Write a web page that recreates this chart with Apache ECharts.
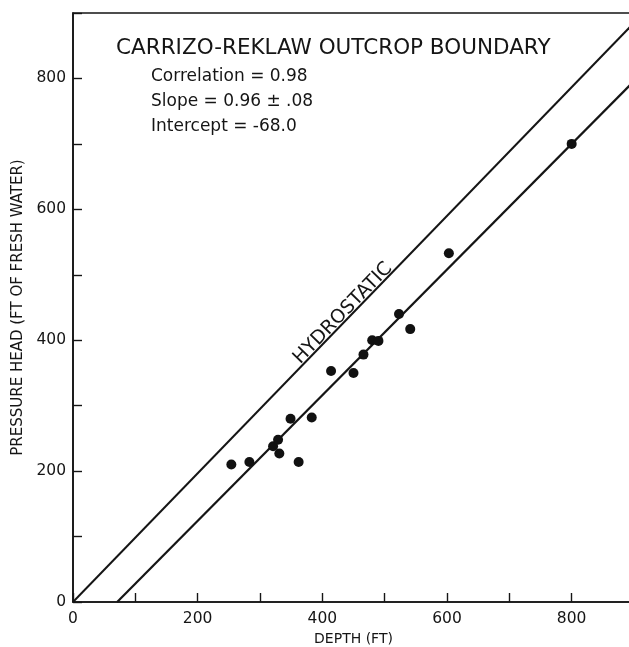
<!DOCTYPE html>
<html>
<head>
<meta charset="utf-8">
<script src="https://cdn.jsdelivr.net/npm/echarts@6/dist/echarts.min.js"></script>
<style>
  html, body { margin: 0; padding: 0; background: #ffffff; }
  #chart { width: 629px; height: 647px; }
</style>
</head>
<body>
<div id="chart"></div>
<script>
// Well measurements: depth vs. pressure head
const depthFt = [254, 283, 321, 329, 331, 349, 362, 383, 414, 450, 466, 480, 490, 523, 541, 603, 800];
const headFt  = [210, 214, 238, 248, 227, 280, 214, 282, 353, 350, 378, 400, 399, 440, 417, 533, 700];

// Least-squares fit stated in the annotation
const fitSlope = 0.96;
const fitIntercept = -68.0;

// Hydrostatic reference line end points (depth, head)
const hydroStart = [0, 0];
const hydroEnd = [900, 885];

// Axis tick labels (ticks every 100, labels every 200)
const xTickLabels = ['0', '200', '400', '600', '800'];
const yTickLabels = ['0', '200', '400', '600', '800'];

// Annotation text
const titleText = 'CARRIZO-REKLAW OUTCROP BOUNDARY';
const statLines = ['Correlation = 0.98', 'Slope = 0.96 \u00b1 .08', 'Intercept = -68.0'];
const hydroText = 'HYDROSTATIC';
const hydroLabelFrac = 0.49; // position of the label along the hydrostatic line

const axisMax = 900;
const ink = '#151515';
const fontFam = '"DejaVu Sans", "Liberation Sans", Arial, sans-serif';

const points = depthFt.map((d, i) => [d, headFt[i]]);
const hydroLine = [hydroStart, hydroEnd];
const fitLine = [[-fitIntercept / fitSlope, 0], [axisMax, fitSlope * axisMax + fitIntercept]];

const chart = echarts.init(document.getElementById('chart'), null, { renderer: 'canvas' });

const axisCommon = {
  type: 'value',
  min: 0,
  max: axisMax,
  interval: 100,
  splitLine: { show: false },
  axisLine: { show: true, onZero: false, lineStyle: { color: ink, width: 1.6 } },
  axisTick: { show: true, inside: true, length: 9, lineStyle: { color: ink, width: 1.4 } }
};

chart.setOption({
  animation: false,
  backgroundColor: '#ffffff',
  grid: {
    left: 73, right: -5, top: 13, bottom: 45,
    containLabel: false,
    outerBoundsMode: 'none',
    show: true, borderColor: ink, borderWidth: 1.6, backgroundColor: 'transparent'
  },
  xAxis: Object.assign({}, axisCommon, {
    name: 'DEPTH (FT)',
    nameLocation: 'middle',
    nameGap: 30,
    nameTextStyle: { color: ink, fontFamily: fontFam, fontSize: 14 },
    axisLabel: {
      color: ink, fontFamily: fontFam, fontSize: 15.5, margin: 9,
      formatter: v => (xTickLabels.indexOf(String(v)) >= 0 ? String(v) : '')
    }
  }),
  yAxis: Object.assign({}, axisCommon, {
    name: 'PRESSURE HEAD (FT OF FRESH WATER)',
    nameLocation: 'middle',
    nameGap: 41,
    nameRotate: 90,
    nameTextStyle: { color: ink, fontFamily: fontFam, fontSize: 15 },
    axisLabel: {
      color: ink, fontFamily: fontFam, fontSize: 15.5, margin: 7,
      formatter: v => (yTickLabels.indexOf(String(v)) >= 0 ? String(v) : '')
    }
  }),
  series: [
    {
      name: 'Hydrostatic',
      type: 'line',
      data: hydroLine,
      showSymbol: false,
      lineStyle: { color: ink, width: 2 },
      z: 2
    },
    {
      name: 'Fit',
      type: 'line',
      data: fitLine,
      showSymbol: false,
      lineStyle: { color: ink, width: 2.2 },
      z: 2
    },
    {
      name: 'Wells',
      type: 'scatter',
      data: points,
      symbol: 'circle',
      symbolSize: 10,
      itemStyle: { color: '#111111', opacity: 1 },
      z: 3
    }
  ]
});

// Place the text annotations; the line label follows the hydrostatic line's on-screen angle
const p0 = chart.convertToPixel({ gridIndex: 0 }, hydroStart);
const p1 = chart.convertToPixel({ gridIndex: 0 }, hydroEnd);
const angle = Math.atan2(p0[1] - p1[1], p1[0] - p0[0]);
const pa = [p0[0] + (p1[0] - p0[0]) * hydroLabelFrac, p0[1] + (p1[1] - p0[1]) * hydroLabelFrac];
const off = 7;
const lx = pa[0] - Math.sin(angle) * off;
const ly = pa[1] - Math.cos(angle) * off;

const statElems = statLines.map((t, i) => ({
  type: 'text',
  x: 151,
  y: 77 + i * 25,
  style: { text: t, font: '17px ' + fontFam, fill: ink, textVerticalAlign: 'middle', textAlign: 'left' }
}));

chart.setOption({
  graphic: [
    {
      type: 'text',
      x: 116,
      y: 48,
      style: { text: titleText, font: '21.5px ' + fontFam, fill: ink, textVerticalAlign: 'middle', textAlign: 'left' }
    },
    ...statElems,
    {
      type: 'text',
      x: lx,
      y: ly,
      rotation: angle,
      style: { text: hydroText, font: '19px ' + fontFam, fill: ink, textVerticalAlign: 'middle', textAlign: 'center' }
    }
  ]
});
</script>
</body>
</html>
